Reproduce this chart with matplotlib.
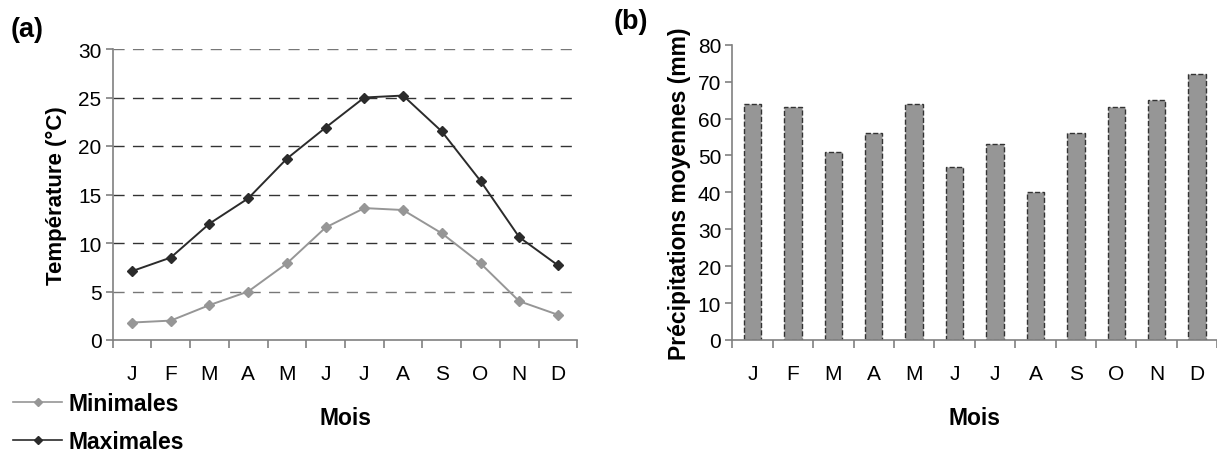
import numpy as np
import matplotlib.pyplot as plt
from matplotlib.lines import Line2D

plt.rcParams['font.family'] = ['Liberation Sans', 'DejaVu Sans']

# monthly data
mois = ['J', 'F', 'M', 'A', 'M', 'J', 'J', 'A', 'S', 'O', 'N', 'D']
t_min = [1.8, 2.0, 3.6, 5.0, 7.9, 11.6, 13.6, 13.4, 11.0, 7.9, 4.0, 2.6]
t_max = [7.1, 8.5, 12.0, 14.6, 18.7, 21.9, 25.0, 25.2, 21.5, 16.4, 10.6, 7.7]
precip = [64, 63, 51, 56, 64, 47, 53, 40, 56, 63, 65, 72]

x = np.arange(len(mois))
W, H = 1217, 452
fig = plt.figure(figsize=(W / 100, H / 100), dpi=100)

spine_col = '#808080'


def style_axes(ax):
    for s in ['top', 'right']:
        ax.spines[s].set_visible(False)
    for s in ['left', 'bottom']:
        ax.spines[s].set_color(spine_col)
        ax.spines[s].set_linewidth(1.2)
    ax.set_xlim(-0.5, len(mois) - 0.5)
    # ticks between months, labels centred on months
    ax.set_xticks(np.arange(-0.5, len(mois), 1))
    ax.set_xticklabels([])
    ax.set_xticks(x, minor=True)
    ax.set_xticklabels(mois, minor=True, fontsize=15)
    ax.tick_params(axis='x', which='major', direction='out', length=6,
                   color=spine_col, width=1.2)
    ax.tick_params(axis='x', which='minor', length=0, pad=17)
    ax.tick_params(axis='y', direction='out', length=5, color=spine_col,
                   width=1.2, labelsize=15, pad=3)


# (a) temperatures
ax1 = fig.add_axes([112.7 / W, 111 / H, 464.6 / W, 291 / H])
style_axes(ax1)
ax1.set_ylim(0, 30)
ax1.set_yticks(range(0, 31, 5))
for v in range(5, 31, 5):
    ax1.axhline(v, color='#333333' if v not in (5, 30) else '#777777',
                lw=1, ls=(0, (8, 6)), zorder=0)
ax1.plot(x, t_min, color='#969696', marker='D', ms=5.5, lw=1.4, clip_on=False)
ax1.plot(x, t_max, color='#2b2b2b', marker='D', ms=5.5, lw=1.4, clip_on=False)
ax1.set_ylabel('Température (°C)', fontsize=16, fontweight='bold', labelpad=8)
ax1.set_xlabel('Mois', fontsize=16.5, fontweight='bold', labelpad=17)
fig.text(11 / W, 1 - 30 / H, '(a)', fontsize=19.5, fontweight='bold', va='center')

handles = [Line2D([], [], color='#969696', marker='D', ms=4.5, lw=1.2),
           Line2D([], [], color='#2b2b2b', marker='D', ms=4.5, lw=1.2)]
fig.legend(handles, ['Minimales', 'Maximales'], loc='upper left',
           bbox_to_anchor=(13 / W, 1 - 393 / H), frameon=False,
           prop={'size': 16.5, 'weight': 'bold'}, handlelength=2.15,
           handletextpad=0.25, labelspacing=0.65, borderpad=0,
           borderaxespad=0)

# (b) precipitations
ax2 = fig.add_axes([732.3 / W, 111 / H, 485 / W, 295.3 / H])
style_axes(ax2)
ax2.set_ylim(0, 80)
ax2.set_yticks(range(0, 81, 10))
ax2.bar(x, precip, width=0.43, color='#969696', edgecolor='#333333',
        linewidth=1, linestyle='--', zorder=2)
ax2.set_ylabel('Précipitations moyennes (mm)', fontsize=16.5, fontweight='bold',
               labelpad=5)
ax2.set_xlabel('Mois', fontsize=16.5, fontweight='bold', labelpad=17)
fig.text(614 / W, 1 - 22 / H, '(b)', fontsize=19.5, fontweight='bold', va='center')

fig.savefig('out.png', dpi=100)
